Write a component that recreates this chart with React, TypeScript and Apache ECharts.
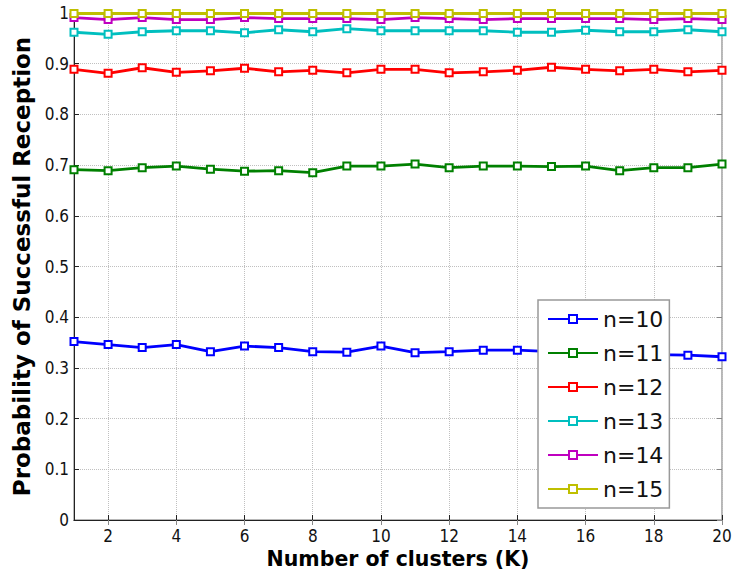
import React, { useEffect, useRef } from "react";
import * as echarts from "echarts";

const clusters = ["1","2","3","4","5","6","7","8","9","10","11","12","13","14","15","16","17","18","19","20"];
const seriesNames = ["n=10", "n=11", "n=12", "n=13", "n=14", "n=15"];
const n10 = [0.352, 0.346, 0.340, 0.346, 0.332, 0.343, 0.340, 0.332, 0.331, 0.343, 0.330, 0.332, 0.335, 0.335, 0.332, 0.330, 0.328, 0.326, 0.325, 0.322];
const n11 = [0.691, 0.689, 0.695, 0.698, 0.692, 0.688, 0.689, 0.685, 0.698, 0.698, 0.702, 0.695, 0.698, 0.698, 0.697, 0.698, 0.689, 0.695, 0.695, 0.702];
const n12 = [0.889, 0.881, 0.892, 0.883, 0.886, 0.891, 0.884, 0.887, 0.882, 0.889, 0.889, 0.882, 0.884, 0.887, 0.893, 0.889, 0.886, 0.889, 0.884, 0.887];
const n13 = [0.962, 0.958, 0.963, 0.965, 0.965, 0.961, 0.967, 0.963, 0.969, 0.965, 0.965, 0.965, 0.965, 0.962, 0.962, 0.966, 0.963, 0.963, 0.967, 0.963];
const n14 = [0.991, 0.987, 0.991, 0.987, 0.987, 0.991, 0.989, 0.989, 0.989, 0.987, 0.991, 0.989, 0.987, 0.989, 0.989, 0.989, 0.989, 0.987, 0.989, 0.987];
const n15 = [0.999, 0.999, 0.999, 0.999, 0.999, 0.999, 0.999, 0.999, 0.999, 0.999, 0.999, 0.999, 0.999, 0.999, 0.999, 0.999, 0.999, 0.999, 0.999, 0.999];
const colors = ["#0000ff", "#008000", "#ff0000", "#00bfbf", "#bf00bf", "#bfbf00"];

const tickFont = "'Liberation Sans Narrow', 'DejaVu Sans Condensed', 'Liberation Sans', sans-serif";
const titleFont = "'DejaVu Sans', Verdana, sans-serif";

export default function App() {
  const ref = useRef<HTMLDivElement>(null);
  useEffect(() => {
    if (!ref.current) return;
    const chart = echarts.init(ref.current, undefined, { renderer: "svg" });
    const evenK = (idx: number) => (idx + 1) % 2 === 0;
    const allData = [n10, n11, n12, n13, n14, n15];
    chart.setOption({
      animation: false,
      backgroundColor: "#ffffff",
      grid: { left: 74, right: 14, top: 13, bottom: 56, show: true, borderColor: "#a0a0a0", borderWidth: 1.5, backgroundColor: "transparent" },
      legend: {
        orient: "vertical",
        left: 538,
        top: 300,
        backgroundColor: "#ffffff",
        borderColor: "#999999",
        borderWidth: 1.5,
        padding: [8, 6, 8, 9],
        itemWidth: 50,
        itemHeight: 10,
        itemGap: 12,
        textStyle: { fontFamily: titleFont, fontSize: 22, lineHeight: 22, color: "#111" },
        data: seriesNames,
      },
      xAxis: [
        {
          type: "category",
          data: clusters,
          boundaryGap: false,
          name: "Number of clusters (K)",
          nameLocation: "middle",
          nameGap: 27,
          nameTextStyle: { fontFamily: titleFont, fontWeight: "bold", fontSize: 20.5, color: "#000" },
          axisLine: { show: true, lineStyle: { color: "#222", width: 1 } },
          axisTick: { show: true, inside: true, length: 5, interval: evenK, lineStyle: { color: "#222" } },
          axisLabel: { interval: evenK, margin: 7, fontFamily: tickFont, fontSize: 17, color: "#111" },
          splitLine: { show: true, interval: evenK, lineStyle: { color: "#c0c0c0", type: "dotted", width: 1 } },
        },
        {
          type: "category",
          data: clusters,
          boundaryGap: false,
          position: "top",
          axisLine: { show: false },
          axisTick: { show: true, inside: true, length: 5, interval: evenK, lineStyle: { color: "#888" } },
          axisLabel: { show: false },
          splitLine: { show: false },
        },
      ],
      yAxis: [
        {
          type: "value",
          min: 0,
          max: 1,
          interval: 0.1,
          name: "Probability of Successful Reception",
          nameLocation: "middle",
          nameGap: 40,
          nameTextStyle: { fontFamily: titleFont, fontWeight: "bold", fontSize: 23, color: "#000" },
          axisLine: { show: true, lineStyle: { color: "#222", width: 1 } },
          axisTick: { show: true, inside: true, length: 5, lineStyle: { color: "#222" } },
          axisLabel: {
            margin: 5,
            fontFamily: tickFont,
            fontSize: 17,
            color: "#111",
            formatter: (v: number) => (Math.abs(v) < 1e-9 ? "0" : Math.abs(v - 1) < 1e-9 ? "1" : v.toFixed(1)),
          },
          splitLine: { show: true, lineStyle: { color: "#c0c0c0", type: "dotted", width: 1 } },
        },
        {
          type: "value",
          min: 0,
          max: 1,
          interval: 0.1,
          position: "right",
          axisLine: { show: false },
          axisTick: { show: true, inside: true, length: 5, lineStyle: { color: "#888" } },
          axisLabel: { show: false },
          splitLine: { show: false },
        },
      ],
      series: seriesNames.map((name, i) => ({
        name,
        type: "line",
        data: allData[i],
        xAxisIndex: 0,
        yAxisIndex: 0,
        symbol: "emptyRect",
        symbolSize: 7,
        showAllSymbol: true,
        clip: false,
        color: colors[i],
        lineStyle: { color: colors[i], width: 2.8 },
        itemStyle: { color: colors[i], borderColor: colors[i], borderWidth: 3 },
        z: 2 + i,
      })),
    });
    return () => chart.dispose();
  }, []);
  return <div ref={ref} style={{ width: 736, height: 576, position: "absolute", left: 0, top: 0 }} />;
}
